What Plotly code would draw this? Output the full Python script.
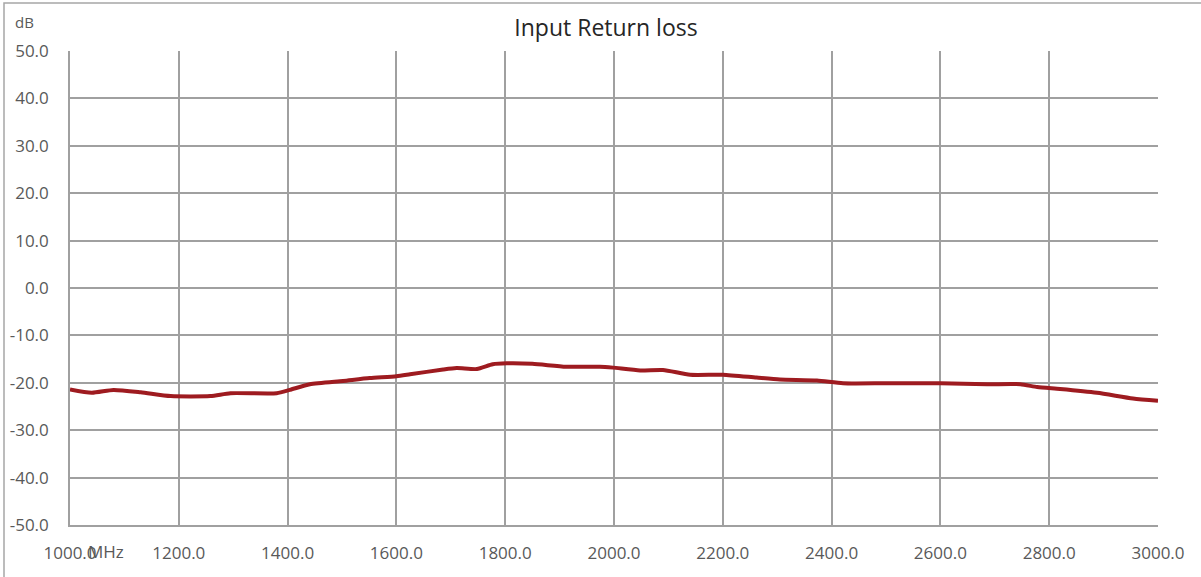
import plotly.graph_objects as go

freq_mhz = [1000, 1040, 1080, 1130, 1185, 1258, 1295, 1380, 1404, 1441, 1502, 1551, 1600,
            1625, 1686, 1711, 1748, 1777, 1803, 1850, 1912, 1974, 1998, 2048, 2090, 2140,
            2200, 2262, 2305, 2373, 2421, 2500, 2600, 2686, 2747, 2778, 2820, 2888, 2954, 3000]
return_loss_db = [-21.4, -22.1, -21.5, -22.0, -22.8, -22.8, -22.2, -22.2, -21.5, -20.3, -19.6,
                  -19.0, -18.6, -18.2, -17.2, -16.9, -17.1, -16.1, -15.9, -16.0, -16.6, -16.6,
                  -16.8, -17.4, -17.3, -18.3, -18.3, -18.9, -19.3, -19.5, -20.1, -20.1, -20.1,
                  -20.3, -20.3, -20.9, -21.3, -22.1, -23.3, -23.8]

x_ticks = [1000, 1200, 1400, 1600, 1800, 2000, 2200, 2400, 2600, 2800, 3000]
x_tick_labels = [f"{v:.1f}" for v in x_ticks]
y_ticks = [50, 40, 30, 20, 10, 0, -10, -20, -30, -40, -50]
y_tick_labels = [f"{v:.1f}" for v in y_ticks]

FONT = "Open Sans, Liberation Sans, sans-serif"
GRID = "#a0a0a0"
TXT = "#595959"

W, H = 1201, 577
PL, PR, PT, PB = 70, 1158, 51, 525
PW, PH = PR - PL, PB - PT


def px(x):
    return (x - PL) / PW


def py(y):
    return (PB - y) / PH


fig = go.Figure()
fig.add_trace(go.Scatter(
    x=freq_mhz, y=return_loss_db, mode="lines",
    line=dict(color="#9e1b20", width=4, shape="spline", smoothing=0.6),
    showlegend=False, hoverinfo="x+y"))

fig.update_layout(
    width=W, height=H,
    margin=dict(l=PL, r=W - PR, t=PT, b=H - PB, autoexpand=False),
    paper_bgcolor="white", plot_bgcolor="white",
    font=dict(family=FONT, size=17, color=TXT),
    title=dict(text="Input Return loss", x=px(606), xref="paper", xanchor="center",
               y=1 - 28 / H, yanchor="middle",
               font=dict(family=FONT, size=23, color="#262626")),
    xaxis=dict(range=[1000, 3000], tickvals=x_ticks, ticktext=x_tick_labels,
               showgrid=True, gridcolor=GRID, gridwidth=1.6, automargin=False,
               showline=True, linecolor=GRID, linewidth=1.6, mirror=False,
               zeroline=False, ticks="", ticklabelstandoff=12,
               tickfont=dict(family=FONT, size=17, color=TXT)),
    yaxis=dict(range=[-50, 50], tickvals=y_ticks, ticktext=y_tick_labels,
               showgrid=True, gridcolor=GRID, gridwidth=1.6, automargin=False,
               showline=True, linecolor=GRID, linewidth=1.6,
               zeroline=False, ticks="", ticklabelstandoff=16,
               tickfont=dict(family=FONT, size=17, color=TXT)),
    shapes=[dict(type="rect", xref="paper", yref="paper",
                 x0=px(4), x1=px(1215), y0=py(600), y1=py(3),
                 line=dict(color="#a6a6a6", width=1.5), fillcolor="rgba(0,0,0,0)",
                 layer="below")],
    annotations=[
        dict(text="dB", xref="paper", yref="paper",
             x=px(13), y=py(22), xanchor="left", yanchor="middle",
             showarrow=False, font=dict(family=FONT, size=15, color=TXT)),
        dict(text="MHz", xref="paper", yref="paper",
             x=px(86), y=py(551), xanchor="left", yanchor="middle",
             showarrow=False, font=dict(family=FONT, size=17, color=TXT)),
    ],
)

fig.write_html("out.html", config={"displayModeBar": False},
               post_script="document.body.style.margin='0';document.body.style.overflow='hidden';")
